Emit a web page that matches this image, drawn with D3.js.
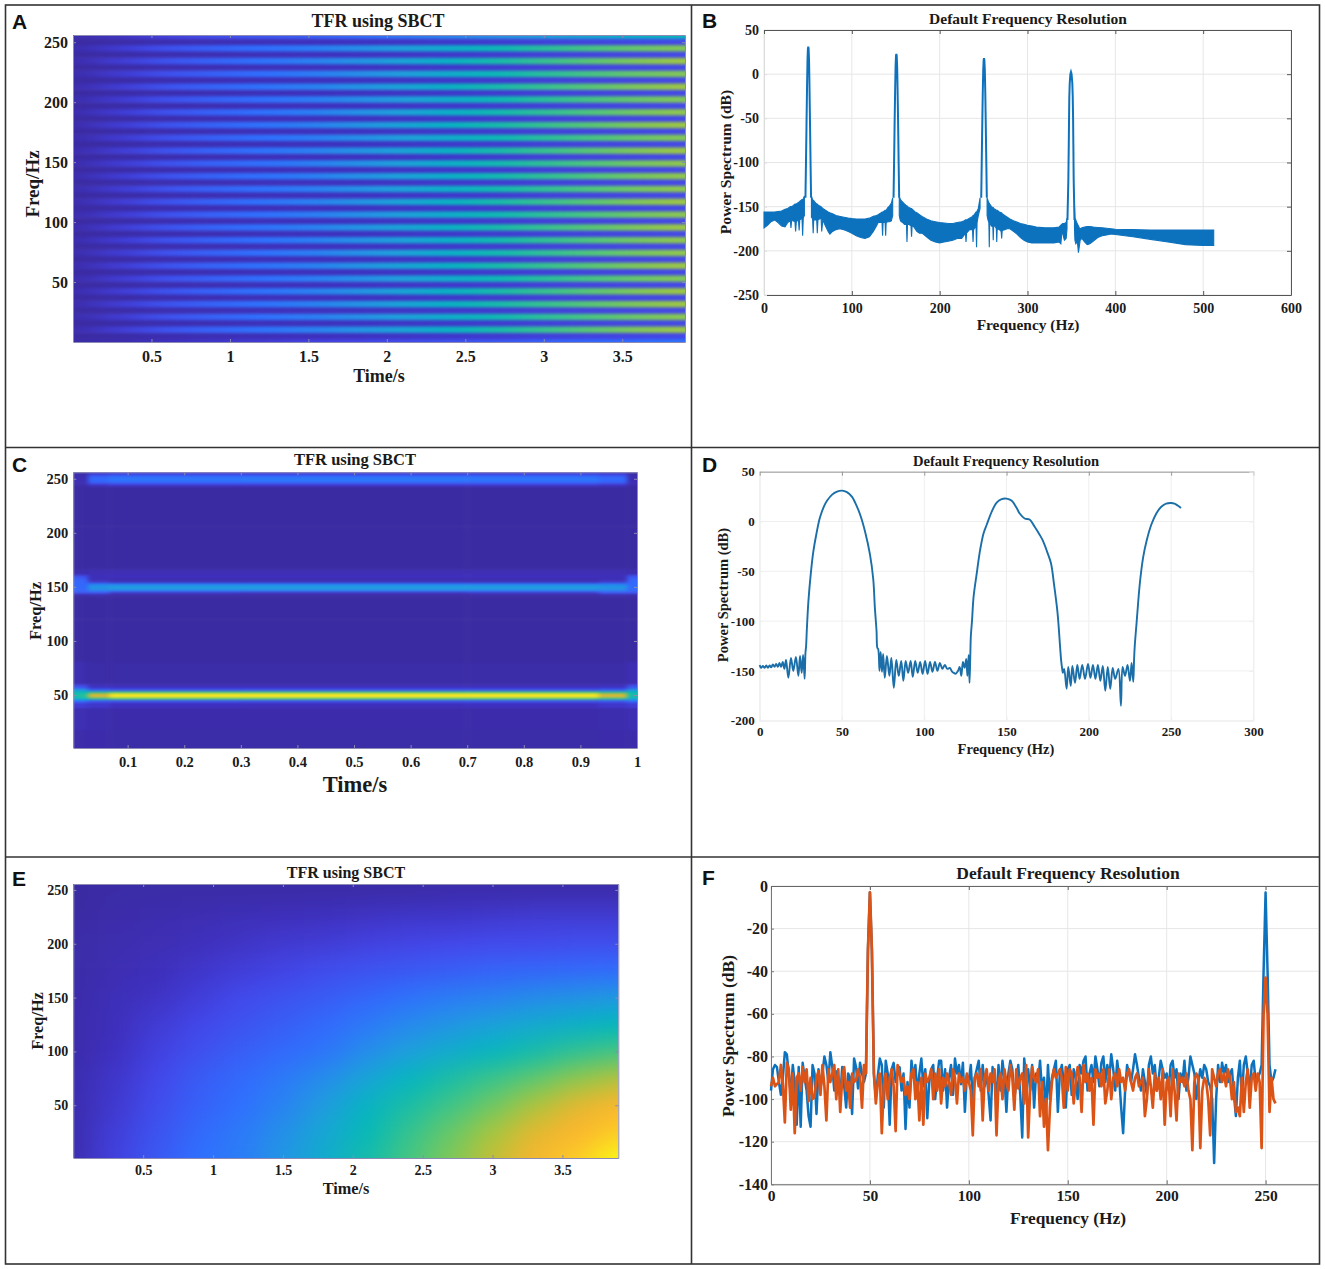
<!DOCTYPE html>
<html lang="en">
<head>
<meta charset="UTF-8">
<title>TFR using SBCT</title>
<style>
  body { margin: 0; background: #fff; }
  text { font-family: "Liberation Serif", serif; font-weight: bold; fill: #1a1a1a; }
  text.letter { font-family: "Liberation Sans", sans-serif; fill: #111; }
</style>
</head>
<body>
<script src="https://d3js.org/d3.v7.min.js"></script>
<script>
// colour map of the heat panels (level 0..1)
const mapLevels = [0, 0.08, 0.16, 0.3, 0.45, 0.55, 0.7, 0.8, 0.88, 0.94, 1];
const mapColors = ["#3a2a9e", "#3e30c0", "#4347ea", "#2f70ff", "#1fa0dc", "#00b8bc", "#50c878", "#a0c840", "#d8b830", "#fdb52f", "#f9fb15"];

// ---- panel A: 24 stripes, brightness grows with time
const timeA = [0, 0.3, 0.6, 0.9, 1.2, 1.5, 1.8, 2.1, 2.4, 2.7, 3.0, 3.3, 3.6, 3.9];
const peakLevelA = [0.03, 0.12, 0.2, 0.26, 0.31, 0.35, 0.41, 0.47, 0.53, 0.59, 0.65, 0.71, 0.76, 0.8];
const troughLevelA = [0.01, 0.02, 0.04, 0.05, 0.06, 0.07, 0.08, 0.09, 0.1, 0.11, 0.13, 0.14, 0.15, 0.16];
const stripeFreqA = [10.7, 21.3, 32, 42.7, 53.3, 64, 74.7, 85.3, 96, 106.7, 117.3, 128, 138.7, 149.3, 160, 170.7, 181.3, 192, 202.7, 213.3, 224, 234.7, 245.3, 256];
const stripeGainA = [1, 0.97, 1, 1, 0.96, 1, 0.98, 0.98, 1, 0.97, 1, 0.98, 0.98, 0.98, 1, 0.96, 1, 0.98, 0.96, 1, 0.96, 1, 0.96, 0.7];
const timeTicksA = [0.5, 1, 1.5, 2, 2.5, 3, 3.5];
const freqTicks = [50, 100, 150, 200, 250];

// ---- panel B: noise floor band (upper and lower edge) and the four peaks
const floorFreqB = [
  0, 4, 8, 12, 16, 20, 24, 27, 30, 30.7, 31.4, 33, 35.2, 36, 36.8, 38, 39.3, 40, 40.7, 42, 43.3, 44, 44.7, 46, NaN,
  54, 55, 55.4, 56, 56.6, 58, 60, 60.7, 61.4, 63, 65, 65.7, 67, 70, 73, 75, 78, 82, 86, 91, 96, 100, 105, 110, 115, 120, 124.5, 128, 130, 133, 134.4, 135, 135.6, 137.9, 138.5, 139.1, 141, 143, 145, 146.5, NaN,
  154, 155, 156, 158, 160, 162.2, 162.8, 163.4, 165, 167.4, 168, 168.6, 170, 172, 174, 177, 180, 185, 190, 195, 200, 205, 210, 215, 220, 225, 228, 229.4, 230, 230.6, 234, 237.4, 238, 238.6, 241.4, 242, 242.6, 244, 246, NaN,
  254, 255, 256, 256.5, 257, 259, 260.5, 261, 261.5, 263, 264.5, 265, 265.5, 268, 270, 270.6, 271.2, 274, 277, 280, 284, 288, 292, 296, 300, 305, 310, 320, 330, 336, 338, 339, 340, 342, 344, 345, NaN,
  353.5, 354, 355, 356, 357, 358, 359, 360, 362, 365, 368, 371, 375, 380, 385, 390, 395, 400, 420, 440, 460, 480, 500, 512];
const floorUpperB = [
  -156, -156, -156, -156, -155.5, -155, -153, -152, -150, -150, -150, -149, -147, -147, -147, -146, -145, -145, -144, -143, -142, -142, -141, -138, NaN,
  -138, -141, -142, -143, -143, -145, -147, -147, -148, -149, -150, -151, -152, -154, -156, -157, -158, -160, -161, -162, -163, -163.5, -164, -164, -164, -163, -161, -160, -159, -157, -156, -156, -156, -154, -154, -154, -151, -149, -146, -140, NaN,
  -139, -141, -143, -145, -147, -149, -149, -150, -151, -152, -152, -153, -154, -156, -157, -159, -161, -164, -166, -167, -168, -168.5, -169, -169, -168, -167, -166, -165, -165, -165, -163, -161, -160, -160, -156, -156, -155, -152, -140, NaN,
  -140, -143, -146, -146, -147, -150, -151, -151, -152, -153, -154, -154, -154, -156, -157, -157, -158, -160, -162, -164, -166, -167.5, -169, -170, -171, -172, -173, -174, -174, -173, -171, -170, -169, -169, -168, -163, NaN,
  -150, -163, -165, -168, -170, -172, -174, -175, -174, -173, -172.5, -172.5, -173, -173.5, -174, -174.5, -175, -175.5, -176, -176.5, -176.5, -176.5, -176.5, -176.5];
const floorLowerB = [
  -174, -171, -167, -165, -168, -172, -173, -168, -166, -174, -166, -166, -167, -178, -167, -166, -166, -177, -165, -164, -164, -183, -163, -160, NaN,
  -162, -163, -165, -180, -165, -165, -165, -180, -165, -164, -163, -178, -165, -172, -178, -181, -178, -176, -175, -176, -178, -180, -183, -185, -186, -184, -178, -172, -168, -168, -168, -183, -168, -168, -183, -168, -167, -167, -166, -160, NaN,
  -160, -165, -167, -168, -170, -170, -190, -170, -170, -172, -184, -172, -172, -175, -178, -180, -180, -184, -188, -190, -191, -190, -189, -188, -186, -186, -182, -180, -190, -180, -176, -176, -190, -176, -172, -196, -168, -160, -152, NaN,
  -160, -165, -168, -196, -168, -172, -172, -188, -172, -172, -175, -190, -175, -176, -178, -186, -177, -176, -175, -175, -178, -181, -185, -188, -190, -191, -191, -191, -191, -190, -192, -180, -180, -188, -186, -175, NaN,
  -175, -188, -192, -190, -192, -202, -195, -188, -186, -190, -193, -192, -189, -185, -183, -182, -181, -181.5, -184, -187, -190, -193, -194, -194];
const peakFreqB = [
  47.2, 47.8, 48.5, 49, 49.5, 50, 50.4, 50.8, 51.3, 51.8, 52.3, 53, 53.6, NaN,
  147.5, 148.1, 148.8, 149.3, 149.8, 150.3, 150.7, 151.1, 151.6, 152.1, 152.6, 153.3, 153.9, NaN,
  247.3, 247.9, 248.6, 249.1, 249.6, 250.1, 250.5, 250.9, 251.4, 251.9, 252.4, 253.1, 253.7, NaN,
  345.5, 346.5, 347, 347.3, 347.6, 348.1, 348.8, 349.5, 350.2, 351, 351.5, 351.9, 352.2, 352.6, 353.5];
const peakPowerB = [
  -140, -100, -50, -15, 15, 29, 31, 29, 15, -15, -50, -100, -140, NaN,
  -140, -100, -50, -18, 8, 21, 23, 21, 8, -18, -50, -100, -140, NaN,
  -140, -100, -50, -20, 5, 16, 18, 16, 5, -20, -50, -100, -140, NaN,
  -165, -120, -80, -50, -25, -10, 0, 2.5, 0, -10, -25, -50, -80, -120, -165];
const freqTicksB = [0, 100, 200, 300, 400, 500, 600];
const powerTicksB = [50, 0, -50, -100, -150, -200, -250];

// ---- panel C: three bands, levels per frequency row (low to high) and time column
const timeC = [0.004, 0.025, 0.035, 0.1, 0.5, 0.9, 0.965, 1];
const freqC = [1, 35, 42, 45, 47, 49, 51, 53, 55, 58, 62, 100, 140, 143, 145, 147, 149, 151, 153, 155, 157, 160, 163, 170, 242, 245, 247, 249, 251, 253, 255, 256];
const levelsC = [
  [0.03, 0.03, 0.03, 0.02, 0.02, 0.02, 0.03, 0.03],
  [0.05, 0.05, 0.04, 0.03, 0.03, 0.03, 0.04, 0.05],
  [0.12, 0.12, 0.1, 0.08, 0.07, 0.08, 0.1, 0.12],
  [0.3, 0.3, 0.22, 0.2, 0.2, 0.2, 0.22, 0.3],
  [0.5, 0.55, 0.62, 0.68, 0.68, 0.68, 0.62, 0.5],
  [0.58, 0.62, 0.88, 0.98, 0.98, 0.98, 0.88, 0.58],
  [0.6, 0.62, 0.88, 0.98, 0.98, 0.98, 0.88, 0.6],
  [0.56, 0.56, 0.62, 0.68, 0.68, 0.68, 0.62, 0.56],
  [0.42, 0.42, 0.24, 0.2, 0.2, 0.2, 0.24, 0.42],
  [0.2, 0.18, 0.08, 0.07, 0.07, 0.07, 0.08, 0.2],
  [0.05, 0.04, 0.02, 0.02, 0.02, 0.02, 0.02, 0.05],
  [0.01, 0.01, 0.01, 0.01, 0.01, 0.01, 0.01, 0.01],
  [0.01, 0.01, 0.01, 0.01, 0.01, 0.01, 0.01, 0.01],
  [0.03, 0.03, 0.04, 0.02, 0.02, 0.02, 0.04, 0.03],
  [0.2, 0.2, 0.2, 0.1, 0.08, 0.1, 0.2, 0.2],
  [0.27, 0.26, 0.34, 0.34, 0.34, 0.34, 0.34, 0.27],
  [0.28, 0.27, 0.42, 0.44, 0.44, 0.44, 0.42, 0.28],
  [0.28, 0.27, 0.42, 0.44, 0.44, 0.44, 0.42, 0.28],
  [0.28, 0.27, 0.34, 0.34, 0.34, 0.34, 0.34, 0.28],
  [0.27, 0.26, 0.12, 0.08, 0.08, 0.08, 0.12, 0.27],
  [0.26, 0.25, 0.05, 0.03, 0.03, 0.03, 0.05, 0.26],
  [0.2, 0.18, 0.07, 0.08, 0.08, 0.08, 0.07, 0.2],
  [0.04, 0.04, 0.05, 0.05, 0.05, 0.05, 0.05, 0.04],
  [0.01, 0.01, 0.01, 0.01, 0.01, 0.01, 0.01, 0.01],
  [0.01, 0.01, 0.01, 0.01, 0.01, 0.01, 0.01, 0.01],
  [0.03, 0.03, 0.1, 0.12, 0.12, 0.12, 0.1, 0.03],
  [0.05, 0.05, 0.24, 0.27, 0.27, 0.27, 0.24, 0.05],
  [0.05, 0.05, 0.28, 0.32, 0.33, 0.32, 0.28, 0.05],
  [0.05, 0.05, 0.28, 0.32, 0.33, 0.32, 0.28, 0.05],
  [0.04, 0.04, 0.22, 0.26, 0.26, 0.26, 0.22, 0.04],
  [0.02, 0.02, 0.12, 0.14, 0.14, 0.14, 0.12, 0.02],
  [0.02, 0.02, 0.1, 0.12, 0.12, 0.12, 0.1, 0.02]
];
const timeTicksC = [0.1, 0.2, 0.3, 0.4, 0.5, 0.6, 0.7, 0.8, 0.9, 1];

// ---- panel D: one spectrum line
const freqD = [
  0, 0.8, 2, 3, 4, 5, 6, 7, 8, 9,
  10, 11, 12, 13, 14, 15, 16, 17.4, 19, 20.4,
  22, 23.5, 24.5, 25.5, 26.4, 27.3, 27.8, 28.2, 28.6, 29.6,
  31, 32.6, 34.5, 36.6, 39, 41, 44, 47, 50, 53,
  56, 58, 61, 64, 67, 69, 70, 71, 71.5, 72,
  72.8, 73.5, 74.3, 75, 76, 77.3, 78.8, 80, 81.5, 83,
  84.5, 86, 87.3, 88.7, 90.2, 91.7, 93, 94.5, 96, 97.5,
  99, 100.5, 102, 103.5, 105, 106.5, 108, 109.5, 111, 112.5,
  114, 115.5, 117, 118, 119, 120.5, 121.5, 122.5, 123.5, 124.5,
  125.5, 126.2, 127, 127.5, 128, 128.3, 129, 130, 131.8, 134,
  136, 138, 141, 144, 147, 150, 153, 156, 158, 161,
  164, 167, 170, 172, 175, 177, 179, 181, 182.5, 183.2,
  183.8, 184.2, 185, 186.5, 187.5, 189, 190, 191.6, 193, 194.4,
  196, 197.7, 199.5, 201, 202.5, 204, 205.5, 207, 208.5, 210,
  211.5, 213, 214.5, 216, 218, 219.5, 220.5, 222, 223.5, 225,
  226, 227, 227.5, 227.9, 229, 231, 233, 235, 238, 241,
  243, 245, 247, 250, 252, 254, 256];
const powerD = [
  -144, -147, -145, -147, -144.5, -147, -144.5, -146.5, -143.5, -146,
  -143, -146, -142, -146, -141, -148, -139, -157, -137, -150,
  -136, -155, -135, -152, -134, -158, -132, -125, -110, -80,
  -53, -30, -12, 4, 15, 21, 27, 30, 31, 29.5,
  25, 19, 7, -10, -33, -58, -87, -110, -127, -128,
  -150, -131, -151, -133, -157, -135, -155, -137, -167, -139,
  -155, -140, -160, -140, -152, -140, -156, -140, -152, -141,
  -153, -140, -153, -141, -151, -141, -150, -142, -148, -144,
  -148, -147, -151, -152, -153, -150, -146, -155, -141, -147,
  -138, -155, -134, -162, -133, -115, -100, -75, -53, -28,
  -12, -3, 10, 19, 22.5, 23, 21, 14, 8, 3,
  2, -5, -13, -19, -32, -42, -65, -92, -125, -140,
  -148, -152, -148, -168, -146, -165, -145, -162, -144, -158,
  -144, -158, -143, -157, -144, -158, -144, -160, -145, -170,
  -146, -168, -147, -158, -148, -185, -146, -155, -144, -160,
  -142, -161, -138, -125, -102, -62, -36, -20, -3, 8,
  13, 16, 18, 18.5, 18, 16, 13.5];
const freqTicksD = [0, 50, 100, 150, 200, 250, 300];
const powerTicksD = [50, 0, -50, -100, -150, -200];

// ---- panel E: smooth field, rows from 0 Hz up to 250 Hz
const timeE = [0, 0.3, 0.6, 0.9, 1.2, 1.5, 1.8, 2.1, 2.4, 2.7, 3.0, 3.3, 3.6, 3.9];
const freqE = [0, 25, 50, 75, 100, 125, 150, 175, 200, 225, 250];
const levelsE = [
  [0.04, 0.14, 0.22, 0.3, 0.34, 0.42, 0.5, 0.59, 0.68, 0.76, 0.85, 0.93, 0.96, 1],
  [0.04, 0.13, 0.2, 0.28, 0.33, 0.4, 0.48, 0.56, 0.65, 0.73, 0.81, 0.9, 0.94, 0.96],
  [0.04, 0.11, 0.18, 0.25, 0.3, 0.36, 0.44, 0.53, 0.6, 0.67, 0.74, 0.82, 0.9, 0.94],
  [0.04, 0.1, 0.16, 0.23, 0.28, 0.33, 0.39, 0.47, 0.54, 0.6, 0.66, 0.72, 0.78, 0.83],
  [0.03, 0.08, 0.14, 0.19, 0.24, 0.28, 0.32, 0.39, 0.45, 0.5, 0.54, 0.59, 0.64, 0.68],
  [0.03, 0.07, 0.12, 0.16, 0.2, 0.24, 0.28, 0.33, 0.38, 0.42, 0.46, 0.49, 0.52, 0.55],
  [0.03, 0.06, 0.09, 0.13, 0.17, 0.2, 0.23, 0.27, 0.31, 0.34, 0.36, 0.39, 0.41, 0.43],
  [0.02, 0.05, 0.07, 0.1, 0.13, 0.15, 0.18, 0.2, 0.22, 0.24, 0.26, 0.27, 0.28, 0.29],
  [0.02, 0.04, 0.05, 0.07, 0.09, 0.11, 0.12, 0.14, 0.15, 0.16, 0.17, 0.17, 0.18, 0.18],
  [0.01, 0.03, 0.04, 0.05, 0.06, 0.07, 0.08, 0.09, 0.1, 0.1, 0.11, 0.12, 0.12, 0.12],
  [0.01, 0.02, 0.02, 0.02, 0.02, 0.02, 0.02, 0.02, 0.02, 0.03, 0.03, 0.03, 0.03, 0.03]
];

// ---- panel F: two spectra, one value per Hz starting at 0 Hz
const blueF = [
  -96, -86, -84, -85, -92, -98, -90, -78, -79, -88,
  -98, -84, -92, -112, -85, -113, -83, -90, -96, -108,
  -113, -84, -88, -107, -86, -95, -88, -80, -84, -92,
  -78, -85, -96, -87, -90, -99, -85, -94, -104, -88,
  -90, -107, -81, -85, -95, -83, -88, -92, -88, -30,
  -3, -30, -88, -99, -89, -81, -84, -104, -82, -88,
  -112, -86, -83, -92, -88, -85, -96, -88, -114, -92,
  -104, -82, -90, -84, -98, -88, -81, -94, -86, -109,
  -92, -86, -84, -100, -90, -82, -82, -96, -86, -104,
  -90, -84, -98, -81, -88, -84, -93, -83, -106, -89,
  -92, -84, -100, -90, -86, -82, -96, -84, -94, -88,
  -98, -110, -85, -90, -100, -84, -96, -82, -90, -106,
  -88, -82, -86, -100, -92, -84, -98, -118, -81, -90,
  -86, -96, -84, -104, -88, -92, -82, -96, -90, -108,
  -84, -100, -90, -86, -82, -106, -88, -84, -92, -104,
  -86, -84, -98, -86, -90, -100, -84, -88, -82, -80,
  -96, -88, -84, -92, -80, -86, -94, -83, -80, -92,
  -84, -90, -79, -86, -96, -82, -90, -104, -116, -96,
  -84, -88, -92, -86, -79, -84, -90, -96, -86, -92,
  -98, -84, -80, -88, -84, -96, -90, -82, -86, -90,
  -88, -96, -84, -82, -90, -86, -100, -88, -92, -82,
  -96, -90, -80, -84, -88, -100, -92, -86, -90, -84,
  -86, -92, -94, -100, -130, -100, -84, -92, -83, -88,
  -84, -92, -88, -86, -98, -108, -90, -82, -100, -84,
  -80, -88, -96, -84, -82, -92, -90, -88, -84, -40,
  -3, -40, -84, -92, -90, -86];
const orangeF = [
  -94, -90, -94, -93, -92, -84, -93, -111, -83, -86,
  -105, -88, -116, -90, -88, -96, -85, -92, -86, -101,
  -90, -100, -99, -90, -87, -98, -84, -94, -110, -86,
  -92, -88, -84, -100, -86, -106, -90, -85, -96, -92,
  -104, -88, -92, -91, -86, -90, -104, -84, -88, -30,
  -3, -30, -88, -102, -92, -88, -116, -94, -88, -100,
  -90, -86, -94, -115, -84, -88, -92, -90, -98, -94,
  -100, -88, -86, -100, -92, -110, -90, -112, -88, -92,
  -90, -86, -100, -88, -96, -86, -102, -90, -94, -88,
  -92, -98, -86, -90, -102, -88, -92, -90, -96, -88,
  -92, -96, -117, -90, -88, -94, -86, -110, -90, -86,
  -96, -88, -92, -86, -117, -92, -88, -100, -86, -92,
  -96, -84, -90, -105, -86, -95, -90, -88, -102, -84,
  -118, -96, -85, -90, -92, -86, -108, -92, -113, -100,
  -124, -104, -92, -86, -90, -88, -86, -90, -104, -85,
  -96, -86, -88, -102, -92, -85, -90, -106, -84, -92,
  -88, -96, -90, -112, -86, -90, -88, -94, -86, -102,
  -96, -86, -100, -90, -88, -94, -86, -92, -90, -96,
  -88, -86, -92, -96, -90, -88, -94, -92, -90, -108,
  -100, -86, -94, -104, -88, -96, -90, -100, -86, -112,
  -92, -90, -108, -86, -96, -110, -88, -92, -90, -94,
  -88, -96, -100, -124, -92, -88, -90, -123, -96, -90,
  -92, -100, -117, -86, -90, -94, -88, -86, -92, -88,
  -94, -86, -90, -100, -92, -106, -104, -108, -90, -106,
  -92, -86, -104, -90, -88, -96, -88, -92, -123, -60,
  -43, -60, -106, -90, -100, -102];
const freqTicksF = [0, 50, 100, 150, 200, 250];
const powerTicksF = [0, -20, -40, -60, -80, -100, -120, -140];

const titleTFR = "TFR using SBCT";
const titleRes = "Default Frequency Resolution";

// ------------------------------------------------------------------
const svg = d3.select("body").append("svg").attr("width", 1325).attr("height", 1269);
const defs = svg.append("defs");
const parula = d3.scaleLinear().domain(mapLevels).range(mapColors).clamp(true);

// the source picture is a soft scan, lines get the same slight softness
defs.append("filter").attr("id", "soft").attr("x", "-2%").attr("y", "-2%").attr("width", "104%").attr("height", "104%")
  .append("feGaussianBlur").attr("stdDeviation", 0.45);

// outer frame and panel dividers
const frame = svg.append("g").attr("fill", "none").attr("stroke", "#333").attr("stroke-width", 1.6);
frame.append("rect").attr("x", 5.5).attr("y", 5).attr("width", 1314).attr("height", 1259);
frame.append("line").attr("x1", 691.5).attr("x2", 691.5).attr("y1", 5).attr("y2", 1264);
frame.append("line").attr("x1", 5).attr("x2", 1320).attr("y1", 447.5).attr("y2", 447.5);
frame.append("line").attr("x1", 5).attr("x2", 1320).attr("y1", 857).attr("y2", 857);

function label(x, y, str, size, rotate) {
  const t = svg.append("text").attr("text-anchor", "middle").attr("font-size", size).text(str);
  if (rotate) t.attr("transform", `translate(${x},${y}) rotate(-90)`);
  else t.attr("x", x).attr("y", y);
  return t;
}
function letter(x, y, str) {
  svg.append("text").attr("class", "letter").attr("x", x).attr("y", y).attr("font-size", 21).text(str);
}

// cell borders halfway between the sample positions, outer cells run past the clip
function cellEdges(pos) {
  const e = [pos[0] - (pos[1] - pos[0]) / 2 - Math.sign(pos[1] - pos[0]) * 80];
  for (let i = 1; i < pos.length; i++) e.push((pos[i - 1] + pos[i]) / 2);
  e.push(pos[pos.length - 1] + Math.sign(pos[1] - pos[0]) * 80);
  return e;
}

function heatmap(id, x, y, times, freqs, levels, blur) {
  const [x0, x1] = x.range(), [y0, y1] = y.range();
  defs.append("clipPath").attr("id", "clip" + id).append("rect")
    .attr("x", x0).attr("y", y1).attr("width", x1 - x0).attr("height", y0 - y1);
  defs.append("filter").attr("id", "blur" + id)
    .attr("filterUnits", "userSpaceOnUse")
    .attr("x", x0 - 100).attr("y", y1 - 100).attr("width", x1 - x0 + 200).attr("height", y0 - y1 + 200)
    .attr("color-interpolation-filters", "sRGB")
    .append("feGaussianBlur").attr("stdDeviation", blur);
  const xe = cellEdges(times.map(x)), ye = cellEdges(freqs.map(y));
  const cells = levels.flatMap((row, i) => row.map((v, j) => ({i, j, v})));
  svg.append("g").attr("clip-path", `url(#clip${id})`)
    .append("g").attr("filter", `url(#blur${id})`)
    .selectAll("rect").data(cells).join("rect")
      .attr("x", d => xe[d.j]).attr("width", d => xe[d.j + 1] - xe[d.j] + 0.5)
      .attr("y", d => ye[d.i + 1]).attr("height", d => ye[d.i] - ye[d.i + 1] + 0.5)
      .attr("fill", d => parula(d.v));
}

function tidyAxis(g, size, color) {
  g.selectAll("text").attr("font-size", size);
  g.selectAll("line").attr("stroke", color);
  g.select(".domain").attr("stroke", color);
}

// ticks of a heat panel sit inside the plot, on all four sides
function heatAxes(x, y, xTicks, yTicks, size, padX, padY) {
  const [x0, x1] = x.range(), [y0, y1] = y.range();
  const c = "#8a8ab4";
  svg.append("g").attr("transform", `translate(0,${y0})`)
    .call(d3.axisBottom(x).tickValues(xTicks).tickSizeInner(-3).tickSizeOuter(0).tickPadding(padX).tickFormat(d => d))
    .call(tidyAxis, size, c);
  svg.append("g").attr("transform", `translate(${x0},0)`)
    .call(d3.axisLeft(y).tickValues(yTicks).tickSizeInner(-3).tickSizeOuter(0).tickPadding(padY).tickFormat(d => d))
    .call(tidyAxis, size, c);
  svg.append("g").attr("transform", `translate(0,${y1})`)
    .call(d3.axisTop(x).tickValues(xTicks).tickSizeInner(-3).tickSizeOuter(0).tickFormat(""))
    .call(tidyAxis, size, c);
  svg.append("g").attr("transform", `translate(${x1},0)`)
    .call(d3.axisRight(y).tickValues(yTicks).tickSizeInner(-3).tickSizeOuter(0).tickFormat(""))
    .call(tidyAxis, size, c);
}

// grid, then axes; o gives the colour of each side of the box (null = not drawn)
function lineAxes(x, y, xTicks, yTicks, o) {
  const [x0, x1] = x.range(), [y0, y1] = y.range();
  const grid = svg.append("g").attr("stroke", o.grid || "#e6e6e6").attr("stroke-width", 1);
  grid.selectAll(".gx").data(xTicks).join("line").attr("x1", x).attr("x2", x).attr("y1", y0).attr("y2", y1);
  grid.selectAll(".gy").data(yTicks).join("line").attr("y1", y).attr("y2", y).attr("x1", x0).attr("x2", x1);
  svg.append("g").attr("transform", `translate(0,${y0})`)
    .call(d3.axisBottom(x).tickValues(xTicks).tickSizeInner(-4).tickSizeOuter(0).tickPadding(o.padX).tickFormat(d => d))
    .call(tidyAxis, o.sizeX, o.bottom);
  svg.append("g").attr("transform", `translate(${x0},0)`)
    .call(d3.axisLeft(y).tickValues(yTicks).tickSizeInner(-3).tickSizeOuter(0).tickPadding(o.padY).tickFormat(d => d))
    .call(tidyAxis, o.sizeY, o.left);
  svg.append("g").attr("transform", `translate(0,${y1})`)
    .call(d3.axisTop(x).tickValues(xTicks).tickSizeInner(-4).tickSizeOuter(0).tickFormat(""))
    .call(tidyAxis, o.sizeX, o.top);
  if (o.right) svg.append("g").attr("transform", `translate(${x1},0)`)
    .call(d3.axisRight(y).tickValues(yTicks).tickSizeInner(-4).tickSizeOuter(0).tickFormat(""))
    .call(tidyAxis, o.sizeY, o.right);
}

// ---- A
{
  const x = d3.scaleLinear().domain([0, 3.9]).range([73, 685]);
  const y = d3.scaleLinear().domain([0, 256]).range([342, 35]);
  const freqs = [0, 5.33], levels = [troughLevelA.map(v => v * 2), troughLevelA];
  stripeFreqA.forEach((f, k) => {
    freqs.push(f);
    levels.push(peakLevelA.map(v => v * stripeGainA[k]));
    if (k < stripeFreqA.length - 1) {
      freqs.push(f + 5.33);
      levels.push(troughLevelA);
    }
  });
  heatmap("A", x, y, timeA, freqs, levels, "18 1.7");
  heatAxes(x, y, timeTicksA, freqTicks, 16, 9, 5);
  label(378, 27, titleTFR, 18);
  label(379, 382, "Time/s", 18);
  label(39, 184, "Freq/Hz", 19, true);
  letter(12, 29, "A");
}

// spectrum line generators shared by B, D and F
const lineOf = (x, y) => d3.line().defined(d => !isNaN(d[0])).x(d => x(d[0])).y(d => y(d[1]));

// ---- B
{
  const x = d3.scaleLinear().domain([0, 600]).range([764, 1291]);
  const y = d3.scaleLinear().domain([-250, 50]).range([295, 30]);
  lineAxes(x, y, freqTicksB, powerTicksB, {top: "#555", bottom: "#555", right: "#555", left: "#ddd", padX: 8, padY: 5, sizeX: 14, sizeY: 14});
  const band = d3.area().defined(d => !isNaN(d.f)).x(d => x(d.f)).y0(d => y(d.lo)).y1(d => y(d.up));
  const marks = svg.append("g").attr("filter", "url(#soft)");
  marks.append("path")
    .datum(floorFreqB.map((f, i) => ({f, up: floorUpperB[i], lo: floorLowerB[i]})))
    .attr("d", band).attr("fill", "#0f72bd").attr("stroke", "#0f72bd").attr("stroke-width", 1.1);
  marks.append("path").datum(d3.zip(peakFreqB, peakPowerB)).attr("d", lineOf(x, y))
    .attr("fill", "none").attr("stroke", "#0f72bd").attr("stroke-width", 2);
  label(1028, 24, titleRes, 15.5);
  label(1028, 330, "Frequency (Hz)", 15.4);
  label(731, 162, "Power Spectrum (dB)", 15.6, true);
  letter(702, 28, "B");
}

// ---- C
{
  const x = d3.scaleLinear().domain([0.004, 1]).range([73.3, 637]);
  const y = d3.scaleLinear().domain([1, 256]).range([748, 472.3]);
  heatmap("C", x, y, timeC, freqC, levelsC, "2.5 0.9");
  heatAxes(x, y, timeTicksC, freqTicks, 14.5, 9, 5);
  label(355, 465, titleTFR, 16.5);
  label(355, 792, "Time/s", 22.5);
  label(41, 611, "Freq/Hz", 16.4, true);
  letter(12, 472, "C");
}

// ---- D
{
  const x = d3.scaleLinear().domain([0, 300]).range([759.7, 1253.4]);
  const y = d3.scaleLinear().domain([-200, 50]).range([720.7, 471.7]);
  lineAxes(x, y, freqTicksD, powerTicksD, {top: "#999", bottom: "#eee", left: "#eee", right: "#eee", grid: "#efefef", padX: 6, padY: 5, sizeX: 13, sizeY: 13});
  svg.append("path").datum(d3.zip(freqD, powerD))
    .attr("d", lineOf(x, y).curve(d3.curveCatmullRom.alpha(0.5)))
    .attr("filter", "url(#soft)")
    .attr("fill", "none").attr("stroke", "#1a6ea8").attr("stroke-width", 1.9).attr("stroke-linejoin", "round");
  label(1006, 466, titleRes, 14.6);
  label(1006, 754, "Frequency (Hz)", 14.5);
  label(728, 595, "Power Spectrum (dB)", 14.5, true);
  letter(702, 472, "D");
}

// ---- E
{
  const x = d3.scaleLinear().domain([0, 3.9]).range([73.3, 618.3]);
  const y = d3.scaleLinear().domain([1, 255.5]).range([1158, 884]);
  heatmap("E", x, y, timeE, freqE, levelsE, "16 12");
  heatAxes(x, y, timeTicksA, freqTicks, 14, 7, 5);
  label(346, 878, titleTFR, 16);
  label(346, 1194, "Time/s", 16.3);
  label(43, 1021, "Freq/Hz", 16.3, true);
  letter(12, 886, "E");
}

// ---- F
{
  const x = d3.scaleLinear().domain([0, 276.5]).range([771, 1318]);
  const y = d3.scaleLinear().domain([-140, 0]).range([1184.3, 886]);
  lineAxes(x, y, freqTicksF, powerTicksF, {top: "#666", bottom: "#666", left: "#777", padX: 6, padY: 3, sizeX: 15.5, sizeY: 16});
  const hz = d3.range(blueF.length);
  const marks = svg.append("g").attr("filter", "url(#soft)").attr("fill", "none").attr("stroke-linejoin", "round");
  marks.append("path").datum(d3.zip(hz, blueF)).attr("d", lineOf(x, y))
    .attr("stroke", "#0f72bd").attr("stroke-width", 2.5);
  marks.append("path").datum(d3.zip(hz, orangeF)).attr("d", lineOf(x, y))
    .attr("stroke", "#dc5318").attr("stroke-width", 2.7);
  label(1068, 879, titleRes, 17.5);
  label(1068, 1224, "Frequency (Hz)", 17.4);
  label(734, 1036, "Power Spectrum (dB)", 17.5, true);
  letter(702, 885, "F");
}
</script>
</body>
</html>
